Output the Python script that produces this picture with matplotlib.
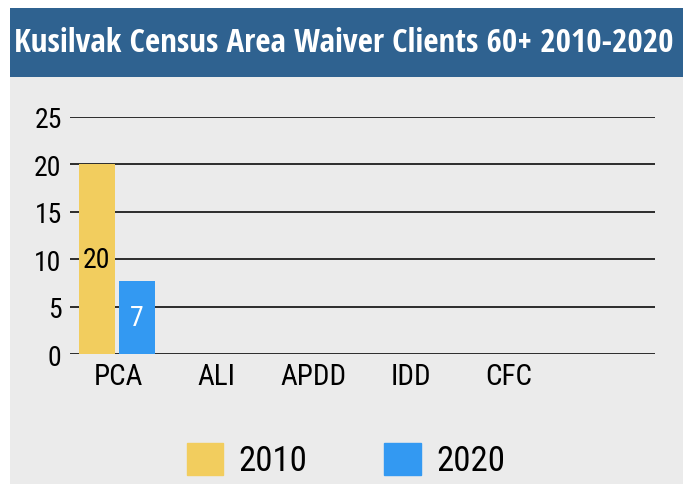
import matplotlib
matplotlib.use('Agg')
import matplotlib.pyplot as plt
from matplotlib.patches import Rectangle
import numpy as np

# Data
categories = ['PCA', 'ALI', 'APDD', 'IDD', 'CFC', '']
values_2010 = [20, 0, 0, 0, 0, 0]
values_2020 = [7.7, 0, 0, 0, 0, 0]
labels_2010 = ['20', '', '', '', '', '']
labels_2020 = ['7', '', '', '', '', '']
years = ['2010', '2020']

gold = '#F2CD5E'
blue = '#3399F2'
panel = '#EBEBEB'
bar_blue = '#2F6290'
title_font = ['Open Sans Condensed', 'DejaVu Sans']
font = ['Roboto Condensed', 'DejaVu Sans']

W, H = 689, 485
fig = plt.figure(figsize=(W / 100, H / 100), dpi=100)
fig.patch.set_facecolor('white')

# background panel and title bar
fig.patches.append(Rectangle((10 / W, 0), 673 / W, (H - 78) / H, transform=fig.transFigure,
                             facecolor=panel, edgecolor='none', zorder=-2))
fig.patches.append(Rectangle((10 / W, (H - 78) / H), 673 / W, 69 / H, transform=fig.transFigure,
                             facecolor=bar_blue, edgecolor='none', zorder=-2))
fig.text(344 / W, (H - 44) / H, 'Kusilvak Census Area Waiver Clients 60+ 2010-2020',
         color='white', fontsize=23.8, fontweight='bold', family=title_font,
         ha='center', va='center')

ax = fig.add_axes([70 / W, 130 / H, 585 / W, 237 / H])
ax.set_zorder(1)
ax.patch.set_visible(False)
x = np.arange(len(categories))
w = 0.37
b1 = ax.bar(x - 0.225, values_2010, w, color=gold, zorder=2)
b2 = ax.bar(x + 0.185, values_2020, w, color=blue, zorder=2)

for rect, lab in zip(b1, labels_2010):
    if lab:
        ax.text(rect.get_x() + rect.get_width() / 2, rect.get_height() / 2, lab,
                ha='center', va='center', fontsize=20, color='black', family=font, zorder=3)
for rect, lab in zip(b2, labels_2020):
    if lab:
        ax.text(rect.get_x() + rect.get_width() / 2, rect.get_height() / 2, lab,
                ha='center', va='center', fontsize=20, color='white', family=font, zorder=3)

ax.set_xlim(-0.5, len(categories) - 0.5)
ax.set_ylim(0, 25)
ax.set_yticks([0, 5, 10, 15, 20, 25])
ax.yaxis.grid(True, color='#2b2b2b', linewidth=1.4, zorder=1)
ax.set_axisbelow(True)
for s in ax.spines.values():
    s.set_visible(False)
ax.set_xticks(x)
ax.set_xticklabels(categories, family=font, fontsize=21)
ax.tick_params(axis='x', length=0, pad=6)
ax.tick_params(axis='y', length=0, pad=6, labelsize=20)
for t in ax.get_yticklabels():
    t.set_family(font)

# legend
leg = fig.legend(handles=[Rectangle((0, 0), 1, 1, color=gold), Rectangle((0, 0), 1, 1, color=blue)],
                 labels=years, loc='center', bbox_to_anchor=(346 / W, (H - 461) / H), ncol=2,
                 frameon=False, prop={'family': font, 'size': 25},
                 handlelength=1.05, handleheight=1.05, columnspacing=2.2, handletextpad=0.45)

fig.savefig('out.png', dpi=100, facecolor='white')
